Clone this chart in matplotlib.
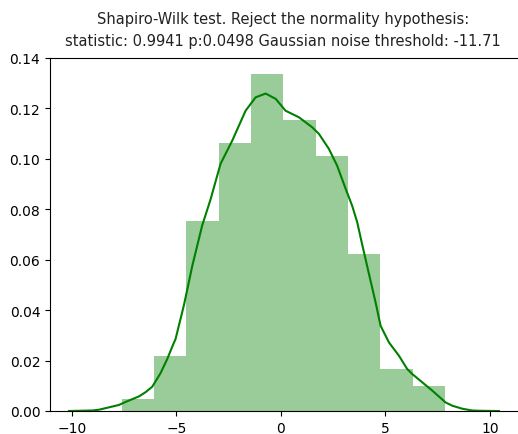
import numpy as np
import matplotlib
matplotlib.use("Agg")
import matplotlib.pyplot as plt

# histogram (density)
bin_edges = [-7.61, -6.06, -4.52, -2.97, -1.43, 0.12, 1.66, 3.21, 4.75, 6.30, 7.85]
bin_heights = [0.0048, 0.0219, 0.0752, 0.1063, 0.1337, 0.1156, 0.1010, 0.0623, 0.0167, 0.0100]

# kde curve points
kde_x = [-10.14, -9.03, -8.71, -7.75, -7.43, -6.79, -6.47, -6.16, -5.76, -5.44, -5.20,
         -5.04, -4.64, -4.24, -3.77, -3.36, -2.89, -2.33, -1.69, -1.21, -0.73, -0.25,
         0.22, 0.86, 1.50, 1.82, 2.14, 2.30, 2.69, 3.10, 3.41, 3.65, 3.89, 4.21, 4.53,
         4.77, 5.17, 5.65, 6.04, 6.28, 7.24, 7.88, 8.20, 8.68, 9.15, 9.47, 10.27, 10.43]
kde_y = [0.0000, 0.0002, 0.0005, 0.0024, 0.0036, 0.0058, 0.0075, 0.0096, 0.0150, 0.0206, 0.0255,
         0.0286, 0.0420, 0.0576, 0.0735, 0.0841, 0.0980, 0.1072, 0.1191, 0.1244, 0.1259, 0.1238,
         0.1191, 0.1165, 0.1125, 0.1099, 0.1059, 0.1039, 0.0973, 0.0881, 0.0814, 0.0749, 0.0660, 0.0545, 0.0431,
         0.0338, 0.0272, 0.0219, 0.0167, 0.0147, 0.0081, 0.0034, 0.0021, 0.0009, 0.0002, 0.0001, 0.0000, 0.0000]

title = ("Shapiro-Wilk test. Reject the normality hypothesis:\n"
         "statistic: 0.9941 p:0.0498 Gaussian noise threshold: -11.71")

fig = plt.figure(figsize=(5.18, 4.35), dpi=100)
ax = fig.add_axes([50 / 518, 1 - 412 / 435, 480 / 518, 353 / 435])

ax.bar(bin_edges[:-1], bin_heights, width=np.diff(bin_edges), align="edge",
       color="g", alpha=0.4, linewidth=0)
ax.plot(kde_x, kde_y, color="g", lw=1.5, solid_joinstyle="round")

ax.set_xlim(-11.05, 11.92)
ax.set_ylim(0, 0.14)
ax.set_xticks([-10, -5, 0, 5, 10])
ax.set_yticks(np.arange(0, 0.141, 0.02))
ax.set_title(title, fontsize=10.5, color="#222222", x=0.485, pad=9.5, linespacing=1.55)

fig.savefig("out.png", dpi=100)
